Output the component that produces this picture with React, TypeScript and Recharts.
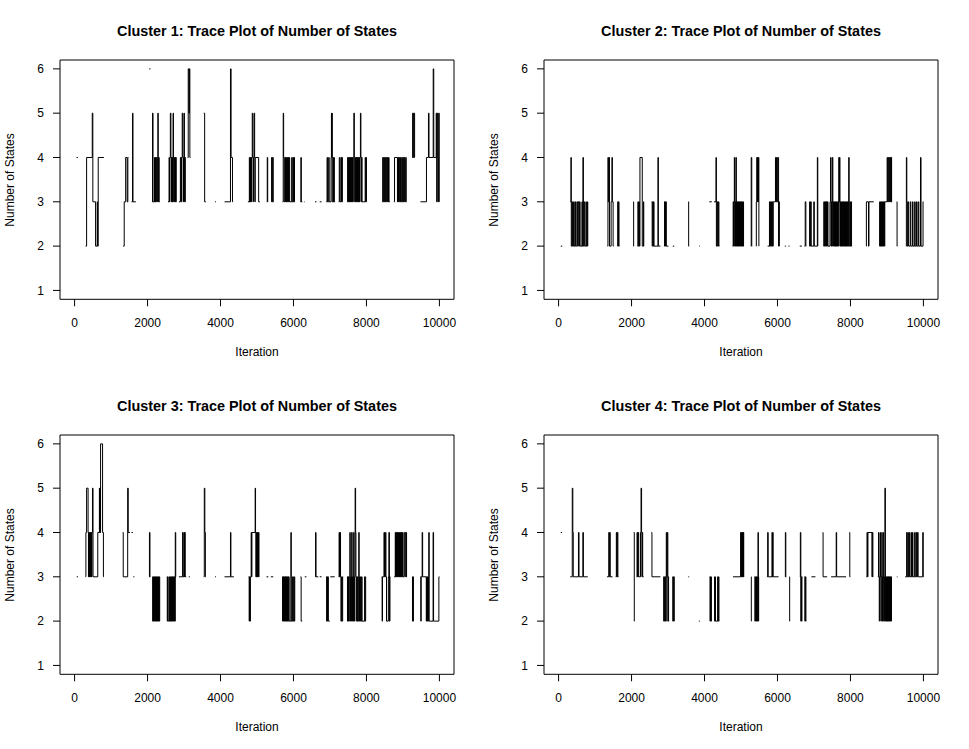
import React from 'react';
import { LineChart, Line, XAxis, YAxis, ReferenceArea } from 'recharts';

type Seg = [number, number][];

const X_TICKS = [0, 2000, 4000, 6000, 8000, 10000];
const Y_TICKS = [1, 2, 3, 4, 5, 6];
const X_DOMAIN = [-400, 10400];
const Y_DOMAIN = [0.8, 6.2];

const CLUSTER_TITLES = [
  'Cluster 1: Trace Plot of Number of States',
  'Cluster 2: Trace Plot of Number of States',
  'Cluster 3: Trace Plot of Number of States',
  'Cluster 4: Trace Plot of Number of States',
];
const X_LABEL = 'Iteration';
const Y_LABEL = 'Number of States';

// Each visible stretch of the trace: [iteration, number of states]
const CLUSTER1_TRACE: Seg[] = [
  [[55, 4], [90, 4]],
  [[300, 2], [329, 4], [484, 5], [500, 3], [575, 2], [620, 3], [630, 2], [648, 4], [803, 4]],
  [[1330, 2], [1360, 3], [1400, 4], [1440, 3], [1460, 4], [1475, 4]],
  [[1560, 3], [1589, 5], [1600, 3], [1680, 3]],
  [[2045, 6], [2080, 6]],
  [[2120, 3], [2136, 5], [2150, 3], [2190, 4], [2200, 3], [2215, 4], [2225, 3], [2240, 4], [2255, 3], [2270, 4], [2283, 5], [2292, 3], [2300, 4], [2320, 3], [2337, 3]],
  [[2560, 3], [2590, 4], [2600, 3], [2610, 4], [2625, 5], [2640, 4], [2650, 3], [2660, 4], [2670, 3], [2680, 4], [2690, 3], [2700, 5], [2710, 4], [2720, 3], [2730, 4], [2745, 3], [2755, 4], [2765, 3], [2775, 4], [2785, 3], [2795, 3]],
  [[2860, 3], [2900, 4], [2915, 3], [2930, 4], [2950, 5], [2965, 4], [2975, 3], [2985, 4], [3000, 5], [3010, 3], [3020, 4], [3035, 3], [3045, 3]],
  [[3100, 4], [3115, 6], [3135, 5], [3145, 6], [3160, 4], [3175, 4]],
  [[3540, 5], [3565, 3], [3600, 3]],
  [[3850, 3], [3875, 3]],
  [[4110, 3], [4273, 6], [4290, 4], [4328, 3], [4345, 3]],
  [[4750, 3], [4790, 4], [4800, 3], [4815, 4], [4825, 3], [4835, 4], [4845, 3], [4855, 4], [4870, 5], [4885, 4], [4895, 3], [4905, 4], [4920, 5], [4935, 4], [4942, 3], [4950, 4], [5045, 3], [5080, 3]],
  [[5270, 3], [5281, 4], [5293, 3], [5305, 3]],
  [[5390, 3], [5400, 4], [5415, 3], [5430, 4], [5445, 3], [5460, 3]],
  [[5700, 3], [5719, 5], [5730, 4], [5745, 3], [5765, 4], [5780, 3], [5790, 4], [5805, 3], [5820, 4], [5835, 3], [5850, 4], [5865, 3], [5880, 4], [5895, 3], [5950, 4], [5965, 3], [5990, 4], [6003, 3], [6015, 4], [6028, 3], [6040, 3]],
  [[6190, 3], [6203, 4], [6215, 3], [6245, 3]],
  [[6290, 3], [6305, 3]],
  [[6590, 3], [6630, 3]],
  [[6720, 3], [6770, 3]],
  [[6900, 3], [6920, 4], [6935, 3], [6965, 4], [6978, 3], [7030, 4], [7040, 5], [7048, 4], [7055, 5], [7062, 3], [7085, 4], [7095, 3], [7110, 4], [7120, 3], [7140, 3]],
  [[7240, 3], [7255, 4], [7270, 3], [7300, 4], [7315, 3], [7325, 4], [7340, 3], [7350, 3]],
  [[7470, 3], [7485, 4], [7495, 3], [7505, 4], [7515, 3], [7530, 4], [7540, 3], [7550, 4], [7560, 3], [7572, 4], [7582, 3], [7595, 4], [7605, 3], [7615, 4], [7625, 3], [7640, 4], [7655, 5], [7668, 4], [7678, 3], [7690, 4], [7700, 3], [7712, 4], [7722, 3], [7735, 4], [7745, 3], [7755, 4], [7765, 3], [7778, 4], [7790, 3], [7800, 4], [7812, 3], [7822, 4], [7835, 5], [7848, 4], [7858, 3], [7868, 4], [7880, 3], [7965, 4], [7978, 3], [7990, 4], [8000, 3], [8010, 3]],
  [[8430, 3], [8445, 4], [8460, 3], [8475, 4], [8490, 3], [8505, 4], [8520, 3], [8540, 4], [8555, 3], [8575, 4], [8590, 3], [8605, 4], [8620, 3], [8640, 3]],
  [[8750, 3], [8770, 4], [8850, 3], [8865, 4], [8880, 3], [8900, 4], [8915, 3], [8935, 4], [8950, 3], [8970, 4], [8985, 3], [9005, 4], [9020, 3], [9040, 4], [9055, 3], [9075, 4], [9090, 3], [9100, 3]],
  [[9250, 4], [9265, 5], [9285, 4], [9300, 5], [9320, 4], [9330, 4]],
  [[9480, 3], [9645, 4], [9700, 5], [9715, 4], [9830, 6], [9845, 4], [9912, 5], [9925, 3], [9940, 5], [9955, 4], [9968, 3], [9980, 5], [9995, 3], [10000, 3]],
];

const CLUSTER2_TRACE: Seg[] = [
  [[60, 2], [100, 2]],
  [[320, 3], [338, 4], [348, 2], [365, 3], [380, 2], [410, 3], [425, 2], [450, 3], [465, 2], [500, 3], [520, 2], [540, 3], [560, 2], [575, 3], [590, 2], [640, 3], [652, 2], [667, 4], [680, 2], [700, 3], [715, 2], [750, 3], [762, 2], [790, 3], [800, 2], [805, 2]],
  [[1340, 2], [1353, 4], [1365, 3], [1380, 4], [1395, 2], [1440, 3], [1462, 4], [1475, 3], [1495, 2], [1510, 2]],
  [[1610, 2], [1620, 3], [1635, 2], [1645, 3], [1655, 2], [1665, 2]],
  [[2045, 3], [2057, 2], [2070, 2]],
  [[2165, 2], [2175, 3], [2185, 2], [2200, 3], [2215, 2], [2230, 4], [2294, 2], [2325, 3], [2335, 2], [2342, 2]],
  [[2550, 3], [2565, 2], [2580, 3], [2592, 2], [2605, 3], [2615, 2], [2724, 4], [2735, 2], [2790, 2]],
  [[2890, 3], [2905, 2], [2918, 3], [2930, 2], [2940, 3], [2952, 2], [3010, 2]],
  [[3130, 2], [3170, 2]],
  [[3555, 3], [3565, 2], [3580, 2]],
  [[3850, 2], [3870, 2]],
  [[4130, 3], [4200, 3]],
  [[4260, 3], [4314, 4], [4325, 2], [4345, 3], [4360, 2], [4380, 3], [4395, 2], [4410, 2]],
  [[4770, 2], [4785, 3], [4795, 2], [4805, 3], [4817, 4], [4828, 2], [4840, 3], [4850, 2], [4862, 4], [4872, 2], [4885, 3], [4895, 2], [4905, 3], [4915, 2], [4925, 3], [4935, 2], [4948, 3], [4958, 2], [4970, 3], [4980, 2], [4992, 3], [5002, 2], [5015, 3], [5025, 2], [5038, 3], [5048, 2], [5060, 3], [5070, 2], [5078, 2]],
  [[5270, 2], [5280, 4], [5295, 2], [5305, 2]],
  [[5410, 2], [5420, 3], [5432, 4], [5445, 3], [5455, 4], [5468, 3], [5480, 4], [5490, 2], [5495, 2]],
  [[5730, 2], [5780, 3], [5790, 2], [5805, 3], [5818, 2], [5832, 3], [5845, 2], [5858, 3], [5870, 2], [5883, 3], [5945, 4], [5960, 3], [5975, 4], [5990, 3], [6008, 4], [6030, 2], [6040, 3], [6050, 2], [6055, 2]],
  [[6200, 2], [6230, 2]],
  [[6300, 2], [6330, 2]],
  [[6610, 2], [6670, 2]],
  [[6740, 2], [6760, 3], [6778, 2], [6788, 2]],
  [[6870, 2], [6880, 3], [6895, 2], [6910, 3], [6925, 2], [6995, 3], [7010, 2], [7093, 4], [7105, 2], [7110, 2]],
  [[7260, 2], [7270, 3], [7282, 2], [7295, 3], [7308, 2], [7320, 3], [7333, 2], [7345, 3], [7358, 2], [7370, 3], [7385, 2], [7440, 3], [7455, 4], [7468, 2], [7480, 3], [7490, 2], [7505, 4], [7518, 3], [7530, 2], [7541, 3], [7552, 2], [7565, 3], [7575, 2], [7588, 3], [7598, 2], [7610, 3], [7620, 2], [7632, 3], [7642, 2], [7655, 3], [7665, 2], [7680, 4], [7692, 3], [7702, 4], [7712, 2], [7725, 3], [7735, 2], [7748, 3], [7758, 2], [7770, 3], [7780, 2], [7793, 3], [7803, 2], [7815, 3], [7825, 2], [7838, 3], [7848, 2], [7860, 3], [7870, 2], [7882, 3], [7892, 2], [7905, 3], [7915, 2], [7928, 3], [7938, 2], [7952, 4], [7965, 2], [7985, 3], [8000, 2], [8015, 3], [8030, 2], [8045, 2]],
  [[8430, 2], [8437, 3], [8495, 2], [8508, 3], [8640, 3]],
  [[8790, 2], [8800, 3], [8812, 2], [8825, 3], [8835, 2], [8848, 3], [8858, 2], [8870, 3], [8880, 2], [8893, 3], [8905, 2], [8918, 3], [8930, 2], [8942, 3], [9005, 4], [9020, 3], [9035, 4], [9050, 3], [9065, 4], [9080, 3], [9095, 4], [9110, 3], [9122, 4], [9128, 3], [9140, 3]],
  [[9270, 3], [9278, 2], [9290, 2]],
  [[9520, 2], [9533, 4], [9545, 3], [9560, 2], [9580, 3], [9595, 2], [9640, 3], [9655, 2], [9700, 3], [9715, 2], [9760, 3], [9775, 2], [9810, 3], [9825, 2], [9860, 3], [9875, 2], [9920, 4], [9935, 2], [9990, 3], [10000, 3]],
];

const CLUSTER3_TRACE: Seg[] = [
  [[60, 3], [95, 3]],
  [[300, 3], [310, 4], [329, 5], [370, 4], [380, 3], [390, 4], [400, 3], [410, 4], [420, 3], [430, 4], [443, 3], [453, 4], [465, 3], [475, 4], [490, 5], [505, 3], [635, 4], [680, 5], [690, 4], [700, 5], [708, 4], [712, 6], [767, 4], [790, 3], [800, 3]],
  [[1320, 4], [1333, 3], [1455, 5], [1470, 4], [1518, 4]],
  [[1560, 4], [1600, 4]],
  [[1610, 3], [1640, 3]],
  [[2040, 3], [2052, 4], [2066, 3], [2075, 3]],
  [[2130, 3], [2140, 2], [2152, 3], [2162, 2], [2175, 3], [2185, 2], [2198, 3], [2208, 2], [2220, 3], [2230, 2], [2243, 3], [2253, 2], [2265, 3], [2275, 2], [2288, 3], [2298, 2], [2310, 3], [2320, 2], [2333, 3], [2340, 3]],
  [[2530, 3], [2540, 2], [2552, 3], [2565, 2], [2600, 3], [2612, 2], [2625, 3], [2635, 2], [2648, 3], [2658, 2], [2670, 3], [2680, 2], [2693, 3], [2703, 2], [2715, 3], [2725, 2], [2738, 3], [2748, 2], [2760, 4], [2772, 3], [2780, 3]],
  [[2860, 3], [2960, 4], [2975, 3], [3000, 4], [3012, 3], [3020, 4], [3032, 3], [3060, 3]],
  [[3130, 3], [3160, 3]],
  [[3540, 3], [3555, 5], [3570, 4], [3585, 3], [3598, 3]],
  [[3850, 3], [3875, 3]],
  [[4110, 3], [4273, 4], [4285, 3], [4365, 3]],
  [[4770, 3], [4785, 2], [4795, 3], [4805, 2], [4820, 3], [4840, 4], [4850, 3], [4860, 4], [4950, 5], [4960, 4], [4970, 3], [4980, 4], [4990, 3], [5000, 4], [5010, 3], [5020, 4], [5030, 3], [5040, 4], [5055, 3], [5060, 3]],
  [[5260, 3], [5310, 3]],
  [[5380, 3], [5445, 3]],
  [[5690, 3], [5700, 2], [5710, 3], [5720, 2], [5730, 3], [5740, 2], [5750, 3], [5760, 2], [5770, 3], [5780, 2], [5790, 3], [5800, 2], [5810, 3], [5820, 2], [5830, 3], [5840, 2], [5850, 3], [5860, 2], [5870, 3], [5880, 2], [5929, 4], [5940, 2], [5975, 3], [5990, 2], [6008, 3], [6020, 2], [6035, 3], [6040, 3]],
  [[6195, 3], [6210, 2], [6240, 2]],
  [[6310, 3], [6355, 3]],
  [[6598, 3], [6605, 4], [6618, 3], [6680, 3]],
  [[6720, 3], [6770, 3]],
  [[6895, 3], [6908, 2], [6922, 3], [6935, 2], [6945, 3], [6955, 2], [6995, 2]],
  [[7010, 3], [7130, 3]],
  [[7240, 3], [7250, 4], [7262, 3], [7275, 4], [7290, 3], [7300, 2], [7318, 3], [7332, 2], [7348, 3], [7360, 3]],
  [[7470, 3], [7480, 2], [7490, 3], [7500, 2], [7510, 3], [7520, 2], [7530, 3], [7545, 4], [7555, 3], [7565, 2], [7575, 3], [7585, 2], [7595, 4], [7608, 3], [7618, 2], [7628, 3], [7638, 2], [7650, 4], [7660, 3], [7670, 2], [7680, 3], [7690, 5], [7703, 4], [7712, 3], [7722, 2], [7735, 3], [7745, 2], [7760, 3], [7772, 2], [7790, 4], [7800, 3], [7810, 2], [7835, 3], [7848, 2], [7868, 3], [7880, 2], [7950, 3], [7960, 2], [7978, 3], [7990, 3]],
  [[8420, 3], [8430, 2], [8440, 3], [8480, 4], [8495, 3], [8520, 4], [8535, 3], [8550, 2], [8600, 3], [8615, 4], [8630, 2], [8645, 3], [8652, 3]],
  [[8760, 3], [8790, 4], [8800, 3], [8812, 4], [8822, 3], [8835, 4], [8845, 3], [8858, 4], [8868, 3], [8880, 4], [8890, 3], [8903, 4], [8913, 3], [8925, 4], [8935, 3], [8948, 4], [8958, 3], [8970, 4], [8980, 3], [8993, 4], [9003, 3], [9040, 4], [9075, 3], [9090, 4], [9100, 3], [9110, 3]],
  [[9250, 3], [9262, 2], [9275, 3], [9288, 2], [9300, 2]],
  [[9480, 3], [9490, 2], [9500, 3], [9527, 4], [9540, 3], [9640, 2], [9650, 3], [9662, 2], [9675, 3], [9688, 2], [9700, 3], [9709, 4], [9720, 2], [9827, 4], [9840, 2], [9985, 3], [10000, 3]],
];

const CLUSTER4_TRACE: Seg[] = [
  [[60, 4], [95, 4]],
  [[320, 3], [375, 5], [390, 4], [402, 3], [545, 4], [560, 3], [665, 4], [680, 3], [800, 3]],
  [[1325, 3], [1375, 4], [1390, 3], [1402, 4], [1415, 3], [1480, 3]],
  [[1565, 3], [1583, 4], [1597, 3], [1610, 4], [1625, 3], [1640, 3]],
  [[2060, 4], [2075, 2], [2085, 2]],
  [[2140, 3], [2150, 4], [2165, 3], [2180, 4], [2195, 3], [2245, 4], [2260, 5], [2275, 4], [2285, 3], [2295, 4], [2305, 3], [2330, 3]],
  [[2545, 4], [2559, 3], [2790, 3]],
  [[2870, 3], [2880, 2], [2895, 3], [2908, 2], [2922, 3], [2935, 2], [2952, 4], [2965, 3], [2980, 4], [2995, 2], [3007, 3], [3015, 2], [3030, 2]],
  [[3120, 3], [3130, 2], [3145, 3], [3158, 2], [3170, 3], [3178, 3]],
  [[3555, 3], [3580, 3]],
  [[3845, 2], [3870, 2]],
  [[4140, 3], [4150, 2], [4165, 3], [4178, 2], [4188, 3], [4195, 3]],
  [[4265, 3], [4275, 2], [4290, 3], [4300, 2], [4360, 3], [4370, 2], [4385, 3], [4395, 2], [4402, 2]],
  [[4780, 3], [4990, 4], [5000, 3], [5010, 4], [5020, 3], [5030, 4], [5040, 3], [5050, 4], [5060, 3], [5068, 4], [5075, 3], [5085, 3]],
  [[5275, 3], [5283, 2], [5292, 2]],
  [[5370, 3], [5380, 2], [5395, 3], [5410, 2], [5425, 3], [5440, 2], [5455, 3], [5466, 4], [5476, 2], [5484, 3], [5490, 3]],
  [[5710, 3], [5731, 4], [5745, 3], [5850, 4], [5860, 3], [5870, 4], [5880, 3], [6030, 3]],
  [[6205, 3], [6216, 4], [6228, 3], [6240, 3]],
  [[6325, 3], [6334, 2], [6345, 2]],
  [[6615, 3], [6627, 4], [6640, 2], [6650, 3], [6660, 2], [6670, 3], [6680, 3]],
  [[6740, 3], [6750, 2], [6765, 3], [6780, 2], [6790, 2]],
  [[6930, 3], [7040, 3]],
  [[7240, 4], [7250, 3], [7360, 3]],
  [[7470, 3], [7610, 4], [7622, 3], [7880, 3]],
  [[7970, 4], [7982, 3], [7995, 3]],
  [[8440, 3], [8455, 4], [8465, 3], [8480, 4], [8590, 3], [8600, 4], [8615, 3], [8625, 3]],
  [[8750, 3], [8770, 4], [8780, 3], [8790, 2], [8800, 3], [8815, 4], [8825, 3], [8835, 2], [8845, 3], [8860, 4], [8870, 2], [8880, 3], [8890, 2], [8900, 4], [8912, 3], [8922, 2], [8932, 3], [8945, 5], [8958, 2], [8968, 3], [8978, 2], [8988, 3], [8998, 2], [9008, 3], [9018, 2], [9028, 3], [9038, 2], [9048, 3], [9058, 2], [9068, 3], [9078, 2], [9088, 3], [9098, 2], [9108, 3], [9118, 2], [9125, 3], [9130, 3]],
  [[9270, 3], [9290, 3]],
  [[9500, 3], [9540, 4], [9552, 3], [9575, 4], [9588, 3], [9610, 4], [9622, 3], [9660, 4], [9673, 3], [9700, 4], [9713, 3], [9760, 4], [9773, 3], [9800, 4], [9813, 3], [9840, 4], [9855, 3], [9982, 4], [9995, 3], [10005, 3]],
];

const CLUSTER_TRACES = [CLUSTER1_TRACE, CLUSTER2_TRACE, CLUSTER3_TRACE, CLUSTER4_TRACE];

type Row = { iter: number; states: number | null };

function buildRows(segs: Seg[]): Row[] {
  const rows: Row[] = [];
  segs.forEach((seg) => {
    seg.forEach(([iter, states]) => rows.push({ iter, states }));
    rows.push({ iter: seg[seg.length - 1][0] + 0.5, states: null });
  });
  return rows;
}

const FONT = '"Liberation Sans", Arial, Helvetica, sans-serif';
const PANEL_W = 484;
const PANEL_H = 374;

function Panel({ title, segs, left, top }: { title: string; segs: Seg[]; left: number; top: number }) {
  const rows = buildRows(segs);
  return (
    <div style={{ position: 'absolute', left, top, width: PANEL_W, height: PANEL_H }}>
      <LineChart width={PANEL_W} height={PANEL_H} data={rows} margin={{ top: 60, right: 30, bottom: 0, left: 0 }}>
        <XAxis
          dataKey="iter"
          type="number"
          domain={X_DOMAIN}
          ticks={X_TICKS}
          interval={0}
          allowDataOverflow
          axisLine={false}
          stroke="#000"
          tickLine={{ stroke: '#000' }}
          tickSize={7}
          tickMargin={12}
          height={74.7}
          tick={{ fill: '#000', fontSize: 12 }}
        />
        <YAxis
          type="number"
          domain={Y_DOMAIN}
          ticks={Y_TICKS}
          interval={0}
          allowDataOverflow
          axisLine={false}
          stroke="#000"
          tickLine={{ stroke: '#000' }}
          tickSize={7}
          tickMargin={9}
          width={60}
          tick={{ fill: '#000', fontSize: 12 }}
        />
        <ReferenceArea
          x1={X_DOMAIN[0]}
          x2={X_DOMAIN[1]}
          y1={Y_DOMAIN[0]}
          y2={Y_DOMAIN[1]}
          fill="none"
          fillOpacity={0}
          stroke="#000"
          strokeWidth={1}
          ifOverflow="visible"
        />
        <Line
          dataKey="states"
          type="stepAfter"
          stroke="#000"
          strokeWidth={1}
          dot={false}
          activeDot={false}
          connectNulls={false}
          isAnimationActive={false}
        />
      </LineChart>
      <div
        style={{
          position: 'absolute',
          left: 57,
          width: 400,
          top: 23.5,
          height: 14.4,
          lineHeight: '14.4px',
          fontSize: 14.4,
          fontWeight: 'bold',
          textAlign: 'center',
          color: '#000',
          whiteSpace: 'nowrap',
        }}
      >
        {title}
      </div>
      <div
        style={{
          position: 'absolute',
          left: 157,
          width: 200,
          top: 345.7,
          height: 12,
          lineHeight: '12px',
          fontSize: 12,
          textAlign: 'center',
          color: '#000',
        }}
      >
        {X_LABEL}
      </div>
      <div
        style={{
          position: 'absolute',
          left: 9.5 - 100,
          width: 200,
          top: 180 - 6,
          height: 12,
          lineHeight: '12px',
          fontSize: 12,
          textAlign: 'center',
          color: '#000',
          transform: 'rotate(-90deg)',
          whiteSpace: 'nowrap',
        }}
      >
        {Y_LABEL}
      </div>
    </div>
  );
}

const PANEL_POS = [
  { left: 0, top: 0 },
  { left: 484, top: 0 },
  { left: 0, top: 375 },
  { left: 484, top: 375 },
];

export default function App() {
  return (
    <div
      style={{
        position: 'absolute',
        left: 0,
        top: 0,
        width: 969,
        height: 749,
        background: '#fff',
        fontFamily: FONT,
        overflow: 'hidden',
      }}
    >
      {CLUSTER_TRACES.map((segs, i) => (
        <Panel key={i} title={CLUSTER_TITLES[i]} segs={segs} left={PANEL_POS[i].left} top={PANEL_POS[i].top} />
      ))}
    </div>
  );
}
